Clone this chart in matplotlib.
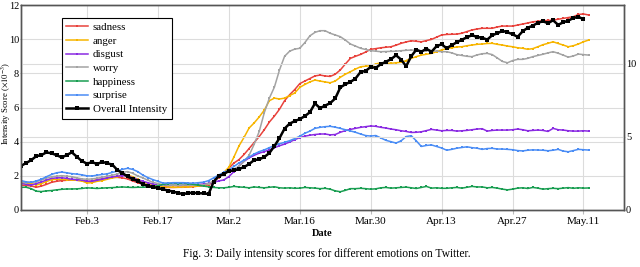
import pandas as pd
import matplotlib
matplotlib.use("Agg")
import matplotlib.pyplot as plt

plt.rcParams['font.family'] = ['Liberation Serif', 'DejaVu Serif']
plt.rcParams['mathtext.fontset'] = 'stix'

# Daily values, 2020-01-21 .. 2020-05-12 (left axis, x1e-3)
sadness = [
    1.46, 1.43, 1.41, 1.33, 1.40, 1.50, 1.62, 1.68, 1.72, 1.74,
    1.76, 1.74, 1.72, 1.66, 1.70, 1.78, 1.82, 1.88, 1.90, 1.91,
    1.88, 1.82, 1.70, 1.60, 1.52, 1.45, 1.40, 1.36, 1.33, 1.32,
    1.32, 1.33, 1.33, 1.35, 1.37, 1.40, 1.43, 1.47, 1.65, 1.90,
    2.15, 2.45, 2.75, 2.95, 3.25, 3.60, 3.95, 4.30, 4.70, 5.15,
    5.50, 5.90, 6.40, 6.75, 7.05, 7.40, 7.55, 7.70, 7.85, 7.90,
    7.85, 7.82, 7.95, 8.20, 8.55, 8.88, 9.00, 9.11, 9.25, 9.41,
    9.45, 9.50, 9.53, 9.56, 9.65, 9.76, 9.84, 9.91, 9.88, 9.85,
    9.92, 9.99, 10.12, 10.25, 10.28, 10.29, 10.30, 10.35, 10.45, 10.54,
    10.60, 10.64, 10.64, 10.64, 10.72, 10.77, 10.77, 10.77, 10.83, 10.89,
    10.95, 11.02, 11.05, 11.08, 11.10, 11.12, 11.17, 11.22, 11.27, 11.32,
    11.45, 11.48, 11.42]
anger = [
    1.56, 1.56, 1.55, 1.46, 1.55, 1.66, 1.78, 1.80, 1.80, 1.78,
    1.76, 1.74, 1.70, 1.58, 1.60, 1.68, 1.72, 1.80, 1.88, 1.95,
    2.02, 2.05, 1.95, 1.80, 1.66, 1.55, 1.48, 1.42, 1.38, 1.35,
    1.33, 1.33, 1.35, 1.36, 1.38, 1.40, 1.45, 1.52, 1.70, 1.95,
    2.20, 2.50, 3.10, 3.75, 4.25, 4.80, 5.10, 5.45, 5.85, 6.40,
    6.55, 6.50, 6.55, 6.70, 6.85, 7.18, 7.35, 7.50, 7.61, 7.55,
    7.50, 7.45, 7.55, 7.77, 7.95, 8.10, 8.25, 8.39, 8.42, 8.45,
    8.55, 8.62, 8.60, 8.59, 8.62, 8.65, 8.75, 8.88, 8.98, 9.07,
    9.12, 9.17, 9.27, 9.37, 9.45, 9.50, 9.55, 9.56, 9.62, 9.66,
    9.70, 9.72, 9.75, 9.76, 9.70, 9.66, 9.60, 9.56, 9.50, 9.47,
    9.41, 9.45, 9.56, 9.68, 9.76, 9.85, 9.75, 9.66, 9.56, 9.62,
    9.72, 9.85, 9.95]
disgust = [
    1.56, 1.50, 1.46, 1.55, 1.64, 1.75, 1.85, 1.88, 1.89, 1.85,
    1.80, 1.78, 1.75, 1.68, 1.68, 1.74, 1.80, 1.88, 1.94, 1.98,
    2.02, 1.98, 1.90, 1.78, 1.68, 1.60, 1.52, 1.48, 1.45, 1.44,
    1.45, 1.44, 1.45, 1.46, 1.48, 1.50, 1.52, 1.56, 1.62, 1.70,
    1.76, 1.95, 2.25, 2.58, 2.85, 3.05, 3.20, 3.33, 3.42, 3.52,
    3.65, 3.76, 3.86, 3.98, 4.12, 4.24, 4.32, 4.38, 4.42, 4.45,
    4.45, 4.40, 4.42, 4.55, 4.65, 4.72, 4.78, 4.84, 4.88, 4.92,
    4.90, 4.84, 4.80, 4.74, 4.70, 4.64, 4.60, 4.54, 4.55, 4.58,
    4.65, 4.72, 4.68, 4.64, 4.66, 4.66, 4.62, 4.64, 4.66, 4.70,
    4.74, 4.76, 4.62, 4.66, 4.68, 4.68, 4.68, 4.70, 4.74, 4.70,
    4.64, 4.66, 4.68, 4.66, 4.60, 4.78, 4.70, 4.68, 4.64, 4.62,
    4.62, 4.64, 4.62]
worry = [
    1.62, 1.60, 1.62, 1.66, 1.75, 1.86, 1.95, 1.98, 2.01, 1.98,
    1.95, 1.88, 1.82, 1.80, 1.82, 1.86, 1.92, 1.98, 2.04, 2.10,
    2.20, 2.25, 2.15, 2.00, 1.88, 1.75, 1.62, 1.55, 1.48, 1.46,
    1.45, 1.45, 1.46, 1.46, 1.46, 1.46, 1.48, 1.55, 1.70, 1.92,
    2.12, 2.28, 2.40, 2.55, 2.85, 3.20, 3.85, 4.60, 5.70, 6.55,
    7.20, 8.20, 9.00, 9.30, 9.42, 9.47, 9.80, 10.20, 10.40, 10.50,
    10.50, 10.35, 10.25, 10.15, 9.95, 9.72, 9.60, 9.47, 9.40, 9.33,
    9.30, 9.27, 9.28, 9.29, 9.30, 9.33, 9.35, 9.37, 9.35, 9.33,
    9.33, 9.33, 9.30, 9.27, 9.27, 9.20, 9.10, 9.05, 9.00, 8.98,
    9.08, 9.15, 9.17, 9.10, 8.90, 8.70, 8.62, 8.75, 8.82, 8.82,
    8.88, 8.98, 9.05, 9.12, 9.20, 9.27, 9.18, 9.07, 8.95, 9.02,
    9.13, 9.10, 9.07]
happiness = [
    1.33, 1.33, 1.25, 1.10, 1.08, 1.12, 1.14, 1.18, 1.21, 1.23,
    1.23, 1.24, 1.26, 1.30, 1.28, 1.26, 1.28, 1.30, 1.31, 1.33,
    1.35, 1.33, 1.32, 1.33, 1.33, 1.34, 1.36, 1.42, 1.50, 1.55,
    1.56, 1.55, 1.56, 1.54, 1.50, 1.45, 1.40, 1.36, 1.32, 1.30,
    1.30, 1.33, 1.38, 1.35, 1.33, 1.30, 1.35, 1.32, 1.30, 1.33,
    1.36, 1.30, 1.28, 1.30, 1.27, 1.28, 1.32, 1.30, 1.28, 1.25,
    1.27, 1.22, 1.12, 1.07, 1.15, 1.25, 1.25, 1.27, 1.25, 1.22,
    1.24, 1.30, 1.32, 1.28, 1.30, 1.32, 1.34, 1.30, 1.26, 1.32,
    1.38, 1.28, 1.30, 1.27, 1.27, 1.30, 1.32, 1.28, 1.33, 1.38,
    1.35, 1.35, 1.30, 1.32, 1.28, 1.22, 1.18, 1.22, 1.28, 1.30,
    1.26, 1.32, 1.28, 1.22, 1.25, 1.27, 1.25, 1.28, 1.31, 1.27,
    1.30, 1.28, 1.29]
surprise = [
    1.72, 1.65, 1.62, 1.70, 1.80, 1.95, 2.08, 2.18, 2.22, 2.18,
    2.13, 2.10, 2.06, 2.00, 1.99, 2.04, 2.08, 2.12, 2.20, 2.28,
    2.38, 2.44, 2.38, 2.25, 2.05, 1.90, 1.78, 1.68, 1.58, 1.58,
    1.60, 1.60, 1.60, 1.58, 1.57, 1.60, 1.63, 1.72, 1.88, 2.05,
    2.20, 2.34, 2.55, 2.75, 2.92, 3.10, 3.28, 3.42, 3.52, 3.65,
    3.78, 3.88, 3.96, 4.06, 4.18, 4.32, 4.49, 4.62, 4.78, 4.84,
    4.88, 4.90, 4.85, 4.78, 4.70, 4.63, 4.55, 4.45, 4.36, 4.33,
    4.36, 4.22, 4.08, 4.00, 3.92, 4.05, 4.30, 4.35, 4.05, 3.72,
    3.78, 3.81, 3.72, 3.63, 3.50, 3.55, 3.62, 3.66, 3.70, 3.65,
    3.62, 3.55, 3.60, 3.61, 3.57, 3.57, 3.55, 3.53, 3.48, 3.46,
    3.50, 3.52, 3.51, 3.50, 3.47, 3.50, 3.55, 3.45, 3.41, 3.48,
    3.55, 3.53, 3.51]

# Overall intensity, 2020-01-21 .. 2020-05-11 (right axis)
overall = [
    3.02, 3.21, 3.41, 3.68, 3.75, 3.94, 3.87, 3.75, 3.59, 3.75,
    3.94, 3.64, 3.34, 3.17, 3.27, 3.14, 3.29, 3.19, 3.10, 2.73,
    2.52, 2.29, 2.11, 1.98, 1.77, 1.64, 1.57, 1.50, 1.41, 1.33,
    1.26, 1.16, 1.09, 1.16, 1.18, 1.14, 1.14, 1.09, 1.93, 2.32,
    2.46, 2.66, 2.70, 2.80, 2.93, 3.14, 3.41, 3.46, 3.62, 3.89,
    4.37, 4.91, 5.56, 5.90, 6.07, 6.21, 6.41, 6.68, 7.28, 6.96,
    7.13, 7.30, 7.62, 8.37, 8.59, 8.75, 8.98, 9.43, 9.50, 9.77,
    9.71, 9.96, 10.13, 10.30, 10.57, 10.28, 9.82, 10.50, 10.95, 10.81,
    11.02, 10.81, 11.19, 11.32, 11.05, 11.26, 11.46, 11.63, 11.80, 11.94,
    11.82, 11.77, 11.64, 11.94, 12.07, 12.24, 12.14, 12.01, 11.83, 12.21,
    12.45, 12.59, 12.79, 12.89, 12.76, 12.96, 12.65, 12.82, 12.94, 13.11,
    13.20, 13.03]

emotion_names = ["sadness", "anger", "disgust", "worry", "happiness", "surprise"]
emotion_colors = ["#e8423c", "#f7b500", "#8a2be2", "#a3a3a3", "#1a9e52", "#4b8df5"]
tick_dates = ["2020-02-03", "2020-02-17", "2020-03-02", "2020-03-16",
              "2020-03-30", "2020-04-13", "2020-04-27", "2020-05-11"]
tick_labels = ["Feb.3", "Feb.17", "Mar.2", "Mar.16", "Mar.30", "Apr.13", "Apr.27", "May.11"]

dates = pd.date_range("2020-01-21", periods=len(sadness), freq="D")
dates_overall = pd.date_range("2020-01-21", periods=len(overall), freq="D")

fig = plt.figure(figsize=(6.4, 2.67), dpi=100)
ax = fig.add_axes([0.033, 0.2135, 0.942, 0.7675])
ax2 = ax.twinx()

grid_col = "#dcdcdc"
ax.grid(True, color=grid_col, linewidth=0.8)
ax.set_axisbelow(True)
ax2.grid(True, axis="y", color=grid_col, linewidth=0.8)
ax2.set_axisbelow(True)

handles = []
for name, vals, col in zip(emotion_names, [sadness, anger, disgust, worry, happiness, surprise], emotion_colors):
    h, = ax.plot(dates, vals, color=col, linewidth=1.1, marker="s", markersize=1.8,
                 markeredgewidth=0, label=name)
    handles.append(h)

h, = ax2.plot(dates_overall, overall, color="black", linewidth=1.8, marker="s",
              markersize=3.4, markeredgewidth=0, label="Overall Intensity")
handles.append(h)

ax.set_xlim(pd.Timestamp("2020-01-21"), pd.Timestamp("2020-05-19"))
ax.set_ylim(0, 12)
ax2.set_ylim(0, 14)
ax.set_yticks([0, 2, 4, 6, 8, 10, 12])
ax2.set_yticks([0, 5, 10])
ax.set_xticks(pd.to_datetime(tick_dates))
ax.set_xticklabels(tick_labels)

for a in (ax, ax2):
    a.tick_params(axis="x", labelsize=8, color="#bbbbbb", length=3, pad=2)
    a.tick_params(axis="y", labelsize=7.5, color="#bbbbbb", length=1, pad=0.5)
    for s in a.spines.values():
        s.set_color("#555555")
        s.set_linewidth(1.0)

ax.set_ylabel(r"Intensity Score ($\times10^{-3}$)", fontsize=6.2)
ax.yaxis.set_label_coords(-0.0135, 0.52)
ax.set_xlabel("Date", fontsize=7.5, fontweight="bold", labelpad=2)

leg = ax2.legend(handles=handles, loc="upper left", bbox_to_anchor=(0.058, 0.963),
                 fontsize=7.8, frameon=True, fancybox=False, framealpha=1,
                 edgecolor="black", handlelength=2.0, handletextpad=0.5,
                 labelspacing=0.38, borderpad=0.4)
leg.get_frame().set_linewidth(0.8)

fig.text(0.51, 0.025, "Fig. 3: Daily intensity scores for different emotions on Twitter.",
         ha="center", va="bottom", fontsize=8.3)

fig.savefig("out.png", dpi=100)
